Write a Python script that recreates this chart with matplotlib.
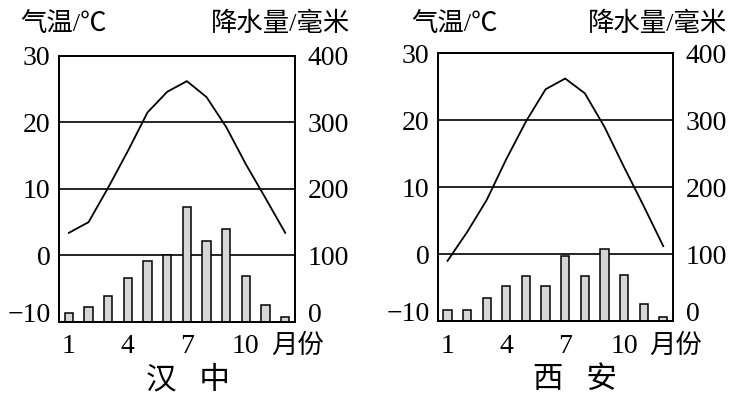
"""
plot.py — climate charts (temperature line + precipitation bars) for
汉中 and 西安, side by side.

Left axis: monthly mean temperature (°C), right axis: monthly
precipitation (mm). Writes out.png.
"""
import matplotlib
matplotlib.use("Agg")
import matplotlib.pyplot as plt

plt.rcParams["font.family"] = ["Liberation Serif", "Noto Sans CJK SC", "DejaVu Sans"]

MONTHS = [1, 2, 3, 4, 5, 6, 7, 8, 9, 10, 11, 12]

# 汉中
HZ_TEMP   = [3.4, 5.0, 10.2, 15.7, 21.5, 24.6, 26.2, 23.8, 19.3, 13.7, 8.6, 3.4]
HZ_PRECIP = [14, 22, 39, 66, 91, 100, 173, 121, 140, 69, 25, 8]

# 西安
XA_TEMP   = [-1.0, 3.3, 8.1, 14.2, 19.8, 24.6, 26.2, 24.0, 19.0, 13.0, 7.2, 1.2]
XA_PRECIP = [17, 17, 35, 52, 68, 53, 98, 67, 108, 69, 26, 6]

TEMP_TICKS   = [-10, 0, 10, 20, 30]
TEMP_LABELS  = ["\u221210", "0", "10", "20", "30"]
PRECIP_TICKS = [0, 100, 200, 300, 400]
MONTH_TICKS  = [1, 4, 7, 10]

NUM_FS  = 20
CJK_FS  = 19
CITY_FS = 22


def draw_panel(fig, rect, temp, precip, city, left_x, right_x, top_y, city_x):
    ax = fig.add_axes(rect)
    ax2 = ax.twinx()

    ax.set_xlim(0.5, 12.5)
    ax.set_ylim(-10, 30)
    ax2.set_ylim(0, 400)

    for t in (0, 10, 20):
        ax.axhline(t, color="black", lw=1.2, zorder=1)

    ax.plot(MONTHS, temp, color="black", lw=1.3, zorder=3)
    ax2.bar(MONTHS, precip, width=0.42, color="#d6d6d6",
            edgecolor="black", lw=1.1, zorder=2)

    ax.set_yticks(TEMP_TICKS)
    ax.set_yticklabels(TEMP_LABELS)
    ax2.set_yticks(PRECIP_TICKS)
    ax.set_xticks(MONTH_TICKS)
    ax.tick_params(axis="y", length=0, pad=6, labelsize=NUM_FS)
    ax.tick_params(axis="x", length=0, pad=9, labelsize=NUM_FS)
    ax2.tick_params(axis="y", length=0, pad=9, labelsize=NUM_FS)

    # bottom labels (-10 / 0) sit on the axis line rather than centred on it
    ax.get_yticklabels()[0].set_verticalalignment("baseline")
    ax2.get_yticklabels()[0].set_verticalalignment("baseline")

    for a in (ax, ax2):
        for s in a.spines.values():
            s.set_linewidth(1.3)

    ax.text(left_x, top_y, "气温/℃", transform=ax.transAxes,
            fontsize=CJK_FS, ha="left", va="center")
    ax2.text(right_x, top_y, "降水量/毫米", transform=ax2.transAxes,
             fontsize=CJK_FS, ha="right", va="center")
    ax.text(0.90, -0.09, "月份", transform=ax.transAxes,
            fontsize=CJK_FS, ha="left", va="center")
    ax.text(city_x, -0.22, city, transform=ax.transAxes,
            fontsize=CITY_FS, ha="center", va="center")
    return ax


def main():
    fig = plt.figure(figsize=(7.47, 3.99), dpi=100)
    draw_panel(fig, [0.079, 0.193, 0.316, 0.667], HZ_TEMP, HZ_PRECIP,
               "汉   中", -0.165, 1.233, 1.12, 0.547)
    draw_panel(fig, [0.586, 0.195, 0.315, 0.672], XA_TEMP, XA_PRECIP,
               "西   安", -0.111, 1.23, 1.108, 0.583)
    fig.savefig("out.png", dpi=100)
    plt.close(fig)


if __name__ == "__main__":
    main()
